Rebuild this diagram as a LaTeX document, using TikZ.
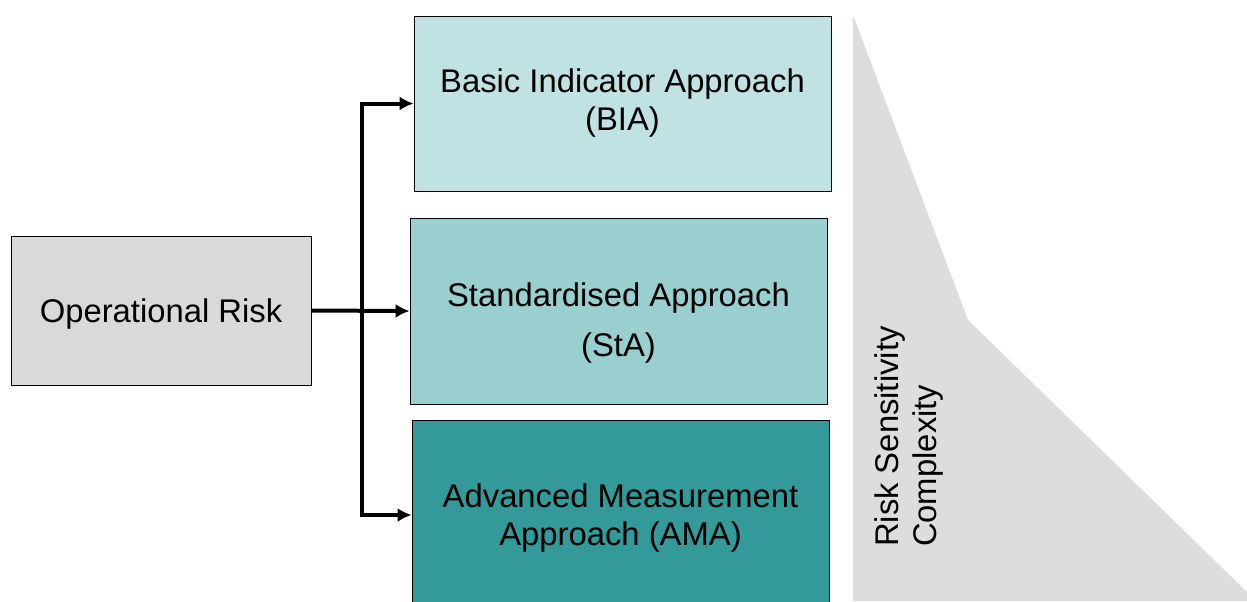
\documentclass[tikz,border=0pt]{standalone}
\usepackage{fontspec}
\setmainfont{Liberation Sans}
\usepackage{tikz}
\usetikzlibrary{arrows.meta}

\definecolor{boxgray}{RGB}{217,217,217}
\definecolor{wedgegray}{RGB}{221,221,221}
\definecolor{tealA}{RGB}{192,226,226}
\definecolor{tealB}{RGB}{153,207,207}
\definecolor{tealC}{RGB}{51,153,153}

\tikzset{
  approach/.style={draw, thin, minimum width=208.5pt, align=center,
    font=\fontsize{16.4}{19}\selectfont},
  conn/.style={line width=2pt, -{Latex[length=7pt, width=7pt]}}
}

\begin{document}
\begin{tikzpicture}[x=0.5pt, y=-0.5pt]
    \useasboundingbox (0, 0) rectangle (1247, 601);

    % wedge behind the label
    \fill [wedgegray] (853, 15) -- (968, 320) -- (1247, 592)
      -- (1247, 601) -- (853, 601) -- cycle;
    \node[rotate=90, align=left, anchor=west,
      font=\fontsize{16.4}{19}\selectfont](sens) at (909, 554)
      {Risk Sensitivity\\Complexity};

    % source
    \node[draw, thin, fill=boxgray, minimum width=150pt, minimum height=74.5pt,
      text depth=0pt, font=\fontsize{16.4}{19}\selectfont](oprisk)
      at (161, 310.5){Operational Risk};

    % the three approaches
    \node[approach, fill=tealA, minimum height=87.5pt](bia) at (622.5, 103.5)
      {Basic Indicator Approach\\(BIA)};
    \node[approach, fill=tealB, minimum height=93pt, text height=45pt,
      text depth=0pt](sta) at (618.5, 311)
      {Standardised Approach\\[6pt](StA)};
    \node[approach, fill=tealC, minimum height=95pt, text depth=0pt](ama)
      at (620.5, 515){Advanced Measurement\\Approach (AMA)};

    % connectors
    \coordinate (split) at (362, 311);
    \draw [conn] (oprisk.east) -- (sta.west);
    \draw [conn] (split) |- (bia.west);
    \draw [conn] (split) |- (ama.west);
  \end{tikzpicture}
\end{document}
